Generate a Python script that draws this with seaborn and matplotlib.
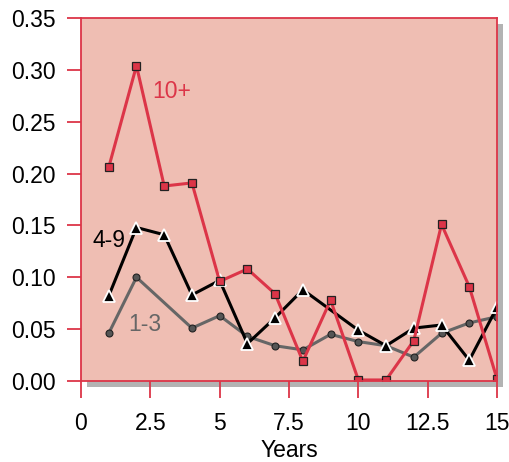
# -*- coding: UTF-8 -*-
import matplotlib
matplotlib.use("Agg")
import matplotlib.pyplot as plt
import matplotlib.patches as mpatches
import numpy as np
import pandas as pd
import seaborn as sns

# data
years_10 = [1, 2, 3, 4, 5, 6, 7, 8, 9, 10, 11, 12, 13, 14, 15]
vals_10 = [0.206, 0.304, 0.188, 0.191, 0.096, 0.108, 0.084, 0.019, 0.078,
           0.001, 0.001, 0.039, 0.151, 0.091, 0.002]

years_49 = [1, 2, 3, 4, 5, 6, 7, 8, 10, 11, 12, 13, 14, 15]
vals_49 = [0.082, 0.148, 0.141, 0.083, 0.097, 0.036, 0.061, 0.088,
           0.049, 0.034, 0.051, 0.054, 0.020, 0.071]

years_13 = [1, 2, 4, 5, 6, 7, 8, 9, 10, 11, 12, 13, 14, 15]
vals_13 = [0.046, 0.100, 0.051, 0.063, 0.043, 0.034, 0.030, 0.045,
           0.038, 0.034, 0.023, 0.046, 0.056, 0.062]

x_ticks = [0, 2.5, 5, 7.5, 10, 12.5, 15]
x_tick_labels = ["0", "2.5", "5", "7.5", "10", "12.5", "15"]
y_ticks = [0.00, 0.05, 0.10, 0.15, 0.20, 0.25, 0.30, 0.35]

red = "#DC3548"
gray = "#666666"
pink = "#EFBEB3"

sns.set_style("ticks")
plt.rcParams['font.family'] = ['Liberation Sans', 'DejaVu Sans']
plt.rcParams['text.color'] = 'black'
plt.rcParams['axes.labelcolor'] = 'black'

fig = plt.figure(figsize=(5.1, 4.62), dpi=100)
ax = fig.add_axes([81 / 510, 1 - 381 / 462, 416 / 510, 363 / 462])
ax.set_facecolor(pink)

# drop shadow behind the panel
shadow = mpatches.Rectangle((87 / 510, 1 - 387 / 462), 416 / 510, 363 / 462,
                            transform=fig.transFigure, facecolor="#B3B3B3",
                            edgecolor="none", zorder=-1)
fig.add_artist(shadow)

df13 = pd.DataFrame({"Years": years_13, "val": vals_13})
df49 = pd.DataFrame({"Years": years_49, "val": vals_49})
df10 = pd.DataFrame({"Years": years_10, "val": vals_10})

sns.lineplot(data=df13, x="Years", y="val", ax=ax, color=gray, linewidth=2.2,
             marker="o", markersize=5, markerfacecolor="#555555",
             markeredgecolor="#222222", markeredgewidth=0.8, zorder=3)
sns.lineplot(data=df49, x="Years", y="val", ax=ax, color="black", linewidth=2.2,
             marker="^", markersize=9, markerfacecolor="black",
             markeredgecolor="white", markeredgewidth=1.3, zorder=4)
sns.lineplot(data=df10, x="Years", y="val", ax=ax, color=red, linewidth=2.2,
             marker="s", markersize=5.5, markerfacecolor=red,
             markeredgecolor="#222222", markeredgewidth=0.9, zorder=5)

# series labels
ax.text(2.56, 0.279, "10+", color=red, fontsize=16.5, va="center", ha="left")
ax.text(0.43, 0.135, "4-9", color="black", fontsize=16.5, va="center", ha="left")
ax.text(1.7, 0.054, "1-3", color=gray, fontsize=16.5, va="center", ha="left")

ax.set_xlim(0, 15)
ax.set_ylim(0, 0.35)
ax.set_xticks(x_ticks)
ax.set_xticklabels(x_tick_labels)
ax.set_yticks(y_ticks)
ax.set_yticklabels(["%.2f" % v for v in y_ticks])
ax.set_xlabel("Years", fontsize=16.5, labelpad=3, color="black")
ax.set_ylabel("")

for s in ax.spines.values():
    s.set_visible(True)
    s.set_color(red)
    s.set_linewidth(1.3)
    s.set_zorder(6)

ax.tick_params(axis="x", length=12, width=1.3, color=red, labelsize=16.5,
               pad=10, labelcolor="black")
ax.tick_params(axis="y", length=10, width=1.3, color=red, labelsize=16.5,
               pad=8, labelcolor="black")

fig.savefig("out.png", dpi=100)
